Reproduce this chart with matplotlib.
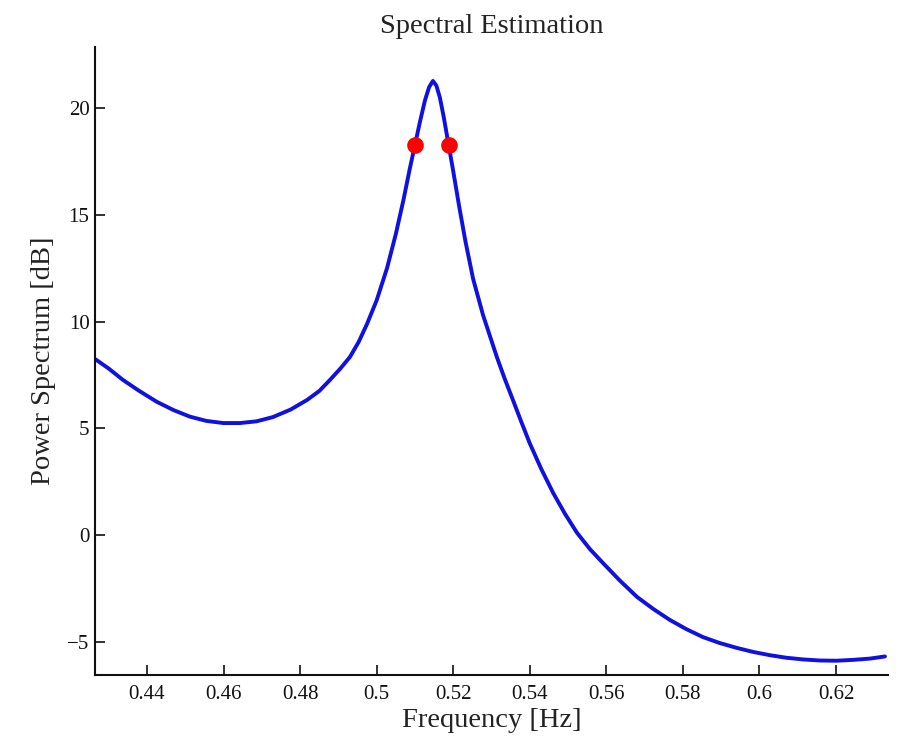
import matplotlib
matplotlib.use("Agg")
import matplotlib.pyplot as plt

# values
freq = [0.4264, 0.4300, 0.4337, 0.4380, 0.4426, 0.4470, 0.4512, 0.4555,
        0.4599, 0.4643, 0.4686, 0.4729, 0.4775, 0.4818, 0.4850, 0.4878,
        0.4905, 0.4930, 0.4953, 0.4975, 0.5000, 0.5027, 0.5050, 0.5070,
        0.5087, 0.5100, 0.5113, 0.5126, 0.5137, 0.5147, 0.5156, 0.5165,
        0.5175, 0.5188, 0.5199, 0.5215, 0.5232, 0.5252, 0.5278, 0.5314,
        0.5335, 0.5356, 0.5378, 0.5400, 0.5430, 0.5461, 0.5492, 0.5523,
        0.5557, 0.5591, 0.5635, 0.5680, 0.5723, 0.5766, 0.5809, 0.5852,
        0.5896, 0.5941, 0.5984, 0.6027, 0.6070, 0.6114, 0.6158, 0.6202,
        0.6245, 0.6289, 0.6328]
power = [8.25, 7.80, 7.27, 6.75, 6.24, 5.85, 5.55, 5.35,
         5.25, 5.25, 5.33, 5.53, 5.88, 6.33, 6.75, 7.27,
         7.80, 8.34, 9.05, 9.90, 11.0, 12.5, 14.1, 15.7,
         17.2, 18.27, 19.35, 20.35, 20.98, 21.27, 21.05, 20.5,
         19.6, 18.27, 17.15, 15.45, 13.75, 12.0, 10.3, 8.34,
         7.30, 6.33, 5.30, 4.30, 3.10, 1.98, 1.00, 0.12,
         -0.65, -1.30, -2.12, -2.89, -3.46, -3.97, -4.40, -4.77,
         -5.05, -5.28, -5.47, -5.62, -5.74, -5.82, -5.87, -5.88,
         -5.84, -5.78, -5.68]

# half-power points
half_freq = [0.5100, 0.5188]
half_power = [18.27, 18.27]

xticks = [0.44, 0.46, 0.48, 0.50, 0.52, 0.54, 0.56, 0.58, 0.60, 0.62]
xticklabels = ["0.44", "0.46", "0.48", "0.5", "0.52", "0.54", "0.56",
               "0.58", "0.6", "0.62"]
yticks = [-5, 0, 5, 10, 15, 20]

plt.rcParams["font.family"] = ["Liberation Serif", "DejaVu Serif"]

fig = plt.figure(figsize=(9.02, 7.40), dpi=100)
ax = fig.add_axes([0.1053, 0.0878, 0.9845 - 0.1053, 0.9365 - 0.0878])

ax.plot(freq, power, color="#1010e0", lw=2.8,
        solid_capstyle="round", solid_joinstyle="round")
ax.plot(half_freq, half_power, "o", color="red", ms=12, mec="none")

ax.set_xlim(0.4264, 0.6336)
ax.set_ylim(-6.55, 22.86)
ax.set_xticks(xticks)
ax.set_xticklabels(xticklabels)
ax.set_yticks(yticks)

for side in ("top", "right"):
    ax.spines[side].set_visible(False)
for side in ("left", "bottom"):
    ax.spines[side].set_linewidth(1.5)
    ax.spines[side].set_color("#111111")

ax.tick_params(direction="in", length=7, width=1.2, labelsize=15,
               colors="#111111")
ax.tick_params(axis="x", pad=7)
ax.tick_params(axis="y", pad=4)

ax.set_title("Spectral Estimation", fontsize=20.5, color="#222222", pad=10)
ax.set_xlabel("Frequency [Hz]", fontsize=20.5, color="#222222", labelpad=3)
ax.set_ylabel("Power Spectrum [dB]", fontsize=20.5, color="#222222",
              labelpad=8)

fig.savefig("out.png", dpi=100)
